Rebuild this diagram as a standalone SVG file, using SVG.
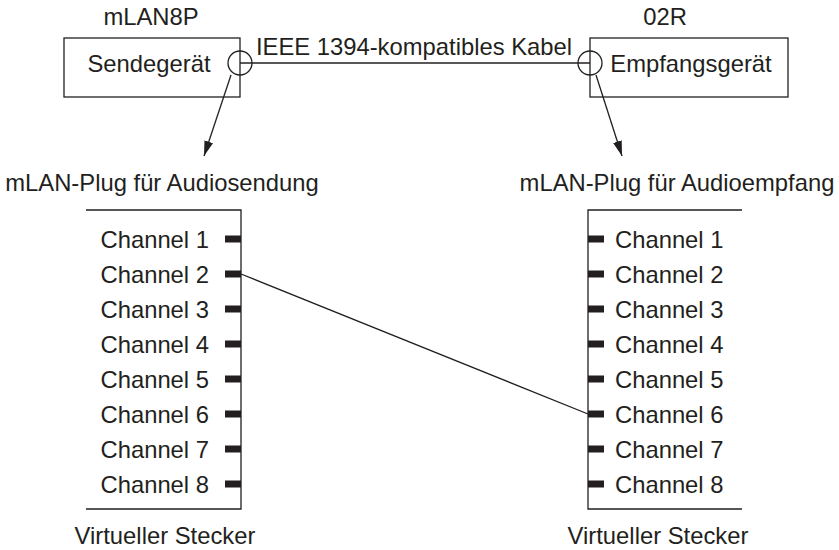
<svg xmlns="http://www.w3.org/2000/svg" width="839" height="550" viewBox="0 0 839 550">
<defs>
<style>
text{font-family:"Liberation Sans",Arial,sans-serif;font-size:23.8px;fill:#231f20}
.c{text-anchor:middle}
.e{text-anchor:end}
.ln{stroke:#231f20;stroke-width:1.3;fill:none}
.pin{fill:#231f20}
</style>
<marker id="ah" viewBox="0 0 15 9" refX="15" refY="4.5" markerWidth="15" markerHeight="9" markerUnits="userSpaceOnUse" orient="auto">
<path d="M0,0 L15,4.5 L0,9 Z" fill="#231f20"/>
</marker>
</defs>
<rect width="839" height="550" fill="#fff"/>
<g id="sender">
<text class="c" x="151" y="25">mLAN8P</text>
<rect class="ln" x="64" y="38" width="176" height="59"/>
<text class="c" x="149" y="72">Sendegerät</text>
<circle class="ln" cx="240" cy="63" r="12"/>
</g>
<g id="receiver">
<text class="c" x="665" y="25">02R</text>
<rect class="ln" x="590" y="38" width="198" height="59"/>
<text class="c" x="691" y="72">Empfangsgerät</text>
<circle class="ln" cx="590" cy="63" r="12"/>
</g>
<g id="plug-send">
<text class="c" x="162" y="191">mLAN-Plug für Audiosendung</text>
<path class="ln" d="M86,210 H241 V509 H86"/>
<g class="pin">
<rect x="225" y="235.5" width="16" height="7"/>
<rect x="225" y="270.5" width="16" height="7"/>
<rect x="225" y="305.5" width="16" height="7"/>
<rect x="225" y="340.5" width="16" height="7"/>
<rect x="225" y="375.5" width="16" height="7"/>
<rect x="225" y="410.5" width="16" height="7"/>
<rect x="225" y="445.5" width="16" height="7"/>
<rect x="225" y="480.5" width="16" height="7"/>
</g>
<text class="e" x="209" y="248">Channel 1</text>
<text class="e" x="209" y="283">Channel 2</text>
<text class="e" x="209" y="318">Channel 3</text>
<text class="e" x="209" y="353">Channel 4</text>
<text class="e" x="209" y="388">Channel 5</text>
<text class="e" x="209" y="423">Channel 6</text>
<text class="e" x="209" y="458">Channel 7</text>
<text class="e" x="209" y="493">Channel 8</text>
<text class="c" x="165" y="544">Virtueller Stecker</text>
</g>
<g id="plug-receive">
<text class="c" x="677" y="191">mLAN-Plug für Audioempfang</text>
<path class="ln" d="M742,210 H588 V509 H742"/>
<g class="pin">
<rect x="588" y="235.5" width="16" height="7"/>
<rect x="588" y="270.5" width="16" height="7"/>
<rect x="588" y="305.5" width="16" height="7"/>
<rect x="588" y="340.5" width="16" height="7"/>
<rect x="588" y="375.5" width="16" height="7"/>
<rect x="588" y="410.5" width="16" height="7"/>
<rect x="588" y="445.5" width="16" height="7"/>
<rect x="588" y="480.5" width="16" height="7"/>
</g>
<text x="615" y="248">Channel 1</text>
<text x="615" y="283">Channel 2</text>
<text x="615" y="318">Channel 3</text>
<text x="615" y="353">Channel 4</text>
<text x="615" y="388">Channel 5</text>
<text x="615" y="423">Channel 6</text>
<text x="615" y="458">Channel 7</text>
<text x="615" y="493">Channel 8</text>
<text class="c" x="658" y="544">Virtueller Stecker</text>
</g>
<g id="connectors">
<line class="ln" x1="240" y1="63" x2="590" y2="63"/>
<text class="c" x="414" y="55">IEEE 1394-kompatibles Kabel</text>
<line class="ln" x1="231" y1="75" x2="204" y2="156" marker-end="url(#ah)"/>
<line class="ln" x1="596" y1="75" x2="622" y2="156" marker-end="url(#ah)"/>
<line class="ln" x1="241" y1="274" x2="588" y2="414"/>
</g>
</svg>
